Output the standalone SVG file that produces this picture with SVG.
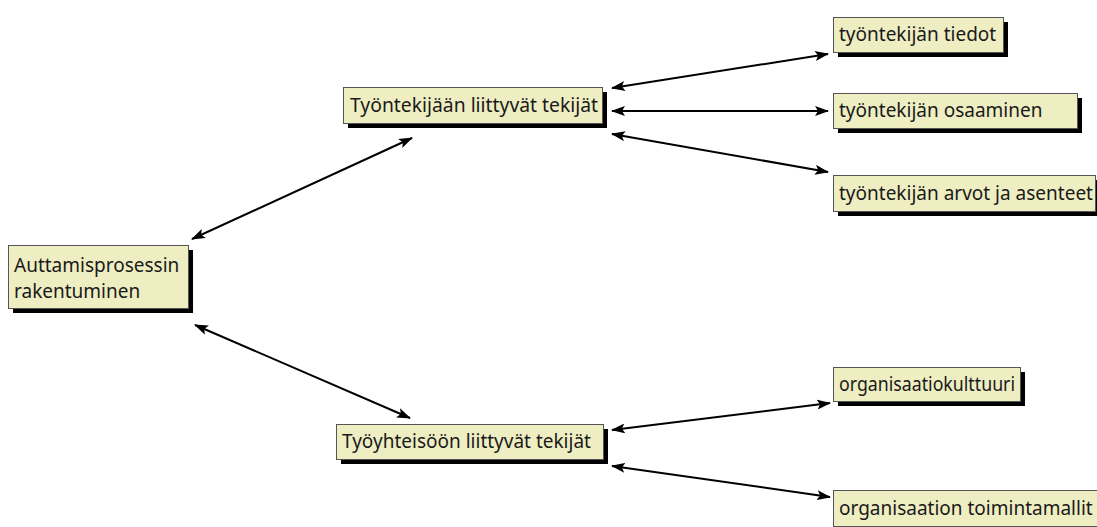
<svg xmlns="http://www.w3.org/2000/svg" width="1097" height="527" viewBox="0 0 1097 527">
  <defs>
    <marker id="head" viewBox="0 0 14 10" refX="13" refY="5" markerWidth="14" markerHeight="10" markerUnits="userSpaceOnUse" orient="auto-start-reverse">
      <path d="M0,0 L14,5 L0,10 L3,5 Z" fill="#000"/>
    </marker>
  </defs>
  <style>
    .shadow { fill: #000; }
    .box { fill: #EEEEC2; stroke: #555; stroke-width: 1; }
    .label { font-family: "Noto Sans", "Open Sans", sans-serif; font-size: 19px; fill: #1a1a1a; }
    .link { stroke: #000; stroke-width: 2; fill: none; marker-start: url(#head); marker-end: url(#head); }
  </style>
  <rect width="1097" height="527" fill="#fff"/>

  <g id="connectors">
    <line class="link" x1="192" y1="239" x2="412" y2="138"/>
    <line class="link" x1="195" y1="325" x2="410" y2="418"/>
    <line class="link" x1="612" y1="88" x2="828" y2="54"/>
    <line class="link" x1="612" y1="111" x2="828" y2="111"/>
    <line class="link" x1="612" y1="134" x2="828" y2="172"/>
    <line class="link" x1="612" y1="430" x2="830" y2="403"/>
    <line class="link" x1="612" y1="466" x2="830" y2="497"/>
  </g>

  <g id="node-auttamisprosessi">
    <rect class="shadow" x="13" y="250" width="180" height="63"/>
    <rect class="box" x="8.5" y="245.5" width="180" height="63"/>
    <text class="label" x="14" y="272">Auttamisprosessin</text>
    <text class="label" x="14" y="298">rakentuminen</text>
  </g>

  <g id="node-tyontekija">
    <rect class="shadow" x="348" y="92" width="259" height="36"/>
    <rect class="box" x="343.5" y="87.5" width="259" height="36"/>
    <text class="label" x="350" y="112" textLength="248" lengthAdjust="spacingAndGlyphs">Työntekijään liittyvät tekijät</text>
  </g>

  <g id="node-tyoyhteiso">
    <rect class="shadow" x="341" y="429" width="267" height="35"/>
    <rect class="box" x="336.5" y="424.5" width="267" height="35"/>
    <text class="label" x="342" y="448">Työyhteisöön liittyvät tekijät</text>
  </g>

  <g id="node-tiedot">
    <rect class="shadow" x="838" y="22" width="170" height="35"/>
    <rect class="box" x="833.5" y="17.5" width="170" height="35"/>
    <text class="label" x="839" y="41">työntekijän tiedot</text>
  </g>

  <g id="node-osaaminen">
    <rect class="shadow" x="838" y="98" width="244" height="35"/>
    <rect class="box" x="833.5" y="93.5" width="244" height="35"/>
    <text class="label" x="839" y="117">työntekijän osaaminen</text>
  </g>

  <g id="node-arvot">
    <rect class="shadow" x="838" y="180" width="262" height="36"/>
    <rect class="box" x="833.5" y="175.5" width="262" height="36"/>
    <text class="label" x="839" y="200">työntekijän arvot ja asenteet</text>
  </g>

  <g id="node-kulttuuri">
    <rect class="shadow" x="838" y="372" width="187" height="34"/>
    <rect class="box" x="833.5" y="367.5" width="187" height="34"/>
    <text class="label" x="839" y="391" textLength="176" lengthAdjust="spacingAndGlyphs">organisaatiokulttuuri</text>
  </g>

  <g id="node-toimintamallit">
    <rect class="shadow" x="838" y="495" width="264" height="36"/>
    <rect class="box" x="833.5" y="490.5" width="264" height="36"/>
    <text class="label" x="839" y="515">organisaation toimintamallit</text>
  </g>
</svg>
